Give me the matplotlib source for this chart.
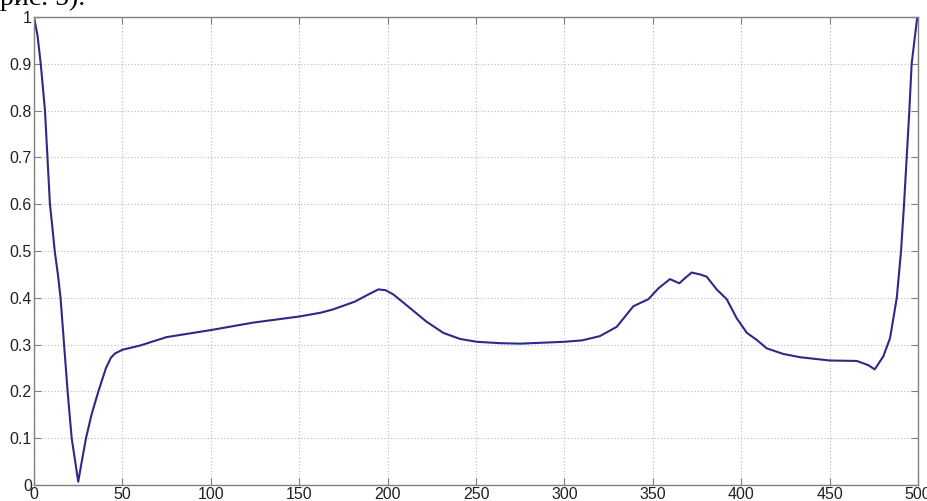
import matplotlib.pyplot as plt

# curve (x from 0 to 500, y from 0 to 1)
xs = [0, 2, 3.8, 6.2, 7.6, 9, 10.4, 11.7, 13.5, 15, 17, 19, 21.3, 23.3, 25,
      27, 29.4, 32.5, 36.4, 40.7, 43.5, 45.8, 50, 60, 75, 100, 124, 150, 162,
      169, 181.6, 188, 194.8, 199, 203.3, 212.7, 222, 231.5, 241, 250.4, 263.6,
      275, 300, 310, 320, 329.6, 339, 347.5, 353.1, 359.7, 365, 368.2, 372,
      376.7, 380.5, 386.1, 391.8, 397.5, 403.2, 408.8, 414.4, 423.8, 433.3,
      450, 465.4, 471.9, 475.5, 480.4, 484.2, 488, 490.4, 492.1, 493.6, 495.1,
      496.4, 498.3, 499.6]
ys = [1.0, 0.96, 0.9, 0.8, 0.7, 0.6, 0.55, 0.5, 0.45, 0.4, 0.3, 0.2, 0.1,
      0.05, 0.007, 0.05, 0.1, 0.15, 0.2, 0.25, 0.272, 0.281, 0.289, 0.298,
      0.316, 0.331, 0.347, 0.36, 0.368, 0.375, 0.392, 0.405, 0.418, 0.416,
      0.407, 0.378, 0.349, 0.325, 0.312, 0.306, 0.303, 0.302, 0.306, 0.309,
      0.318, 0.338, 0.382, 0.397, 0.42, 0.44, 0.431, 0.442, 0.454, 0.45,
      0.445, 0.418, 0.397, 0.356, 0.325, 0.31, 0.292, 0.28, 0.273, 0.266,
      0.265, 0.256, 0.247, 0.275, 0.314, 0.4, 0.5, 0.6, 0.7, 0.8, 0.9, 0.96,
      1.0]

x_ticks = [0, 50, 100, 150, 200, 250, 300, 350, 400, 450, 500]
y_ticks = [0, 0.1, 0.2, 0.3, 0.4, 0.5, 0.6, 0.7, 0.8, 0.9, 1]
y_labels = ['0', '0.1', '0.2', '0.3', '0.4', '0.5', '0.6', '0.7', '0.8', '0.9', '1']

plt.rcParams['font.family'] = ['Liberation Sans', 'DejaVu Sans']

fig = plt.figure(figsize=(9.27, 5.01), dpi=100)
ax = fig.add_axes([0.0367, 0.032, 0.9536, 0.934])

ax.plot(xs, ys, color='#2b2b85', linewidth=1.5)

ax.set_xlim(0, 500)
ax.set_ylim(0, 1)
ax.set_xticks(x_ticks)
ax.set_yticks(y_ticks)
ax.set_yticklabels(y_labels)
ax.grid(True, linestyle=(0, (1, 2)), color='#b8b8b8', linewidth=0.8)

for s in ax.spines.values():
    s.set_color('#808080')
    s.set_linewidth(1.0)
ax.tick_params(direction='in', length=5, color='#808080', top=True, right=True,
               labelsize=11.5, labelcolor='#222222', pad=1.5)

# caption fragment cut off at the top of the picture
fig.text(0.0, 0.991, 'рис. 5).', family=['Liberation Serif', 'DejaVu Serif'],
         fontsize=20, va='baseline', ha='left')

fig.savefig('out.png', dpi=100)
